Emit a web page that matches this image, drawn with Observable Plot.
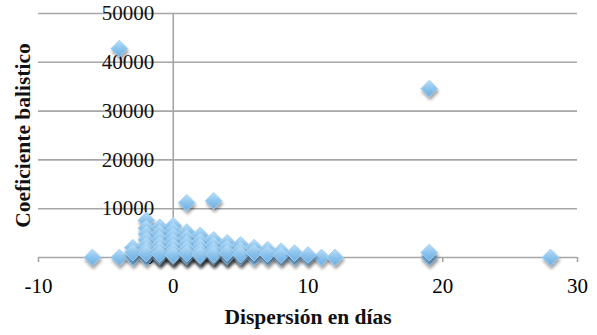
<!DOCTYPE html>
<html>
<head>
<meta charset="utf-8">
<script src="https://cdn.jsdelivr.net/npm/d3@7"></script>
<script src="https://cdn.jsdelivr.net/npm/@observablehq/plot@0.6"></script>
<style>
  html, body { margin: 0; padding: 0; background: #fff; }
  #chart svg { display: block; }
  g[aria-label="dot"] path { filter: drop-shadow(1px 3px 1.5px rgba(0,0,0,0.35)); }
</style>
</head>
<body>
<svg width="0" height="0" style="position:absolute">
  <defs>
    <linearGradient id="dg" x1="0" y1="0" x2="0" y2="1">
      <stop offset="0" stop-color="#b9dff9"/>
      <stop offset="0.5" stop-color="#8cc3ec"/>
      <stop offset="1" stop-color="#6caee2"/>
    </linearGradient>
  </defs>
</svg>
<div id="chart"></div>
<script>
// Tick values
const xTicks = [-10, 0, 10, 20, 30];
const yTicks = [0, 10000, 20000, 30000, 40000, 50000];

// Data: dispersion in days (x) and ballistic coefficient (y)
const dispersion = [
  // zero row
  -6, -4, -3, -2, -1, 0, 1, 2, 3, 4, 5, 6, 7, 8, 9, 10, 11, 12, 19, 28,
  -1, 0, 1, 2, 3, 4, 5, -1, 0, 1, 2, 3, 4,
  // outliers
  -4, 19, 1, 3, 19,
  // cluster
  -3, -3,
  -2, -2, -2, -2, -2, -2, -2,
  -1, -1, -1, -1, -1, -1,
  0, 0, 0, 0, 0, 0, 0,
  1, 1, 1, 1, 1,
  2, 2, 2, 2, 2,
  3, 3, 3, 3,
  4, 4, 4,
  5, 5, 5,
  6, 6,
  7, 7,
  8, 8,
  9,
  10
];
const coefficient = [
  0, 0, 0, 0, 0, 0, 0, 0, 0, 0, 0, 0, 0, 0, 0, 0, 0, 0, 0, 0,
  150, 150, 150, 150, 150, 150, 150, 300, 300, 300, 300, 300, 300,
  42800, 34600, 11200, 11600, 1000,
  2000, 1000,
  7600, 6000, 4800, 3600, 2500, 1500, 800,
  6200, 5000, 3800, 2600, 1600, 700,
  6500, 5500, 4400, 3300, 2200, 1200, 500,
  5200, 4000, 2800, 1700, 800,
  4500, 3300, 2200, 1200, 500,
  3600, 2500, 1400, 600,
  3000, 1900, 900,
  2600, 1500, 600,
  2000, 1000,
  1600, 700,
  1300, 500,
  900,
  500
];

const data = dispersion.map((x, i) => ({x, y: coefficient[i]}));

const font = "'Liberation Serif', 'Times New Roman', serif";
const grid = "#a6a6a6";

const chart = Plot.plot({
  width: 597,
  height: 335,
  marginLeft: 38,
  marginRight: 20,
  marginTop: 13,
  marginBottom: 78,
  style: {fontFamily: font, background: "#fff", color: "#000", overflow: "visible"},
  x: {domain: [-10, 30]},
  y: {domain: [0, 50000]},
  marks: [
    Plot.ruleY(yTicks, {y: d => d, x1: -10, x2: 30, stroke: grid, strokeWidth: 1.6}),
    Plot.ruleX([0], {x: d => d, y1: 0, y2: 50000, stroke: grid, strokeWidth: 1.6}),
    Plot.axisX(xTicks, {
      tickSize: 5, tickPadding: 16, stroke: grid, strokeWidth: 1.6,
      fontSize: 21, tickFormat: d => String(d), label: null
    }),
    Plot.axisY({ticks: [], label: null}),
    Plot.text(yTicks, {
      x: 0, y: d => d, text: d => String(d),
      textAnchor: "end", dx: -19, fontSize: 21, fill: "#111"
    }),
    Plot.dot(data, {
      x: "x", y: "y", symbol: "diamond2", r: 7.6,
      fill: "url(#dg)", stroke: "#a7d2f3", strokeWidth: 1
    }),
    Plot.text(["Dispersión en días"], {
      frameAnchor: "bottom", dy: 66, fontSize: 21.5, fontWeight: "bold", fill: "#111"
    }),
    Plot.text(["Coeficiente balistico"], {
      frameAnchor: "left", textAnchor: "middle", rotate: -90, dx: -15,
      fontSize: 21.5, fontWeight: "bold", fill: "#111"
    })
  ]
});

document.getElementById("chart").appendChild(chart);
</script>
</body>
</html>
